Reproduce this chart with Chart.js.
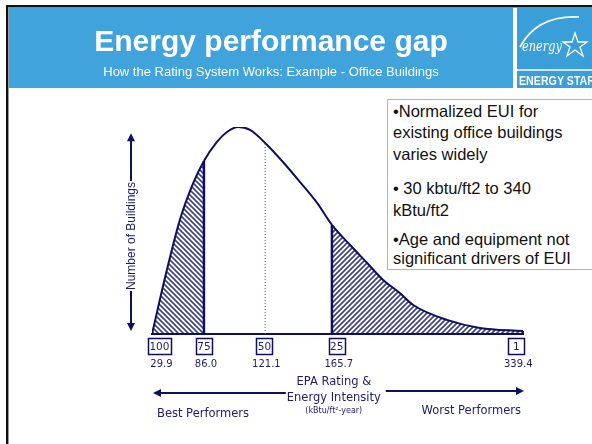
<!DOCTYPE html>
<html>
<head>
<meta charset="utf-8">
<script src="https://cdn.jsdelivr.net/npm/chart.js@4/dist/chart.umd.min.js"></script>
<style>
  html, body { margin: 0; padding: 0; background: #fff; overflow: hidden; }
  body { width: 592px; height: 444px; position: relative; font-family: 'Liberation Sans', Arial, sans-serif; }
  #frame { position: absolute; left: 6px; top: 5px; width: 700px; height: 600px;
           border-top: 2px solid #111; border-left: 2px solid #111; box-shadow: inset 1px 1px 0 #999; }
  #header { position: absolute; left: 9px; top: 7px; width: 504px; height: 81px; background: #40a3dc; }
  .title { position: absolute; left: 0; width: 542px; text-align: center; color: #fff; white-space: nowrap; }
  #logo { position: absolute; left: 517px; top: 7px; width: 80px; height: 81px; background: #3a9fd9; overflow: hidden; }
  #note { position: absolute; left: 387px; top: 99px; width: 260px; height: 169px; border: 1px solid #6cc9ef; border-right: none; background: #fff; }
  .ln { position: absolute; left: 393px; font-size: 16.5px; line-height: 21px; color: #111; white-space: nowrap; }
  #wrap { position: absolute; left: 0; top: 0; width: 592px; height: 444px; }
</style>
</head>
<body>
<div id="frame"></div>
<div id="wrap"><canvas id="gapChart" width="592" height="444"></canvas></div>
<div id="header"></div>
<div class="title" style="top:26px;font-size:30px;line-height:30px;font-weight:bold;">Energy performance gap</div>
<div class="title" style="top:65px;font-size:13px;line-height:13px;">How the Rating System Works: Example - Office Buildings</div>
<div id="logo">
  <svg width="80" height="81" viewBox="0 0 80 81">
    <path d="M3 40 Q 20 8 62 10" stroke="#fff" stroke-width="1.6" fill="none"/>
    <text x="5" y="44" fill="#fff" font-family="DejaVu Serif, serif" font-style="italic" font-size="14" textLength="40" lengthAdjust="spacingAndGlyphs">energy</text>
    <path d="M58 26 L61 35 L70 35 L63 40 L66 49 L58 43 L50 49 L53 40 L46 35 L55 35 Z" stroke="#fff" stroke-width="1.3" fill="none"/>
    <line x1="0" y1="63" x2="80" y2="63" stroke="#fff" stroke-width="1.5"/>
    <text x="2" y="78" fill="#fff" font-family="Liberation Sans, Arial, sans-serif" font-weight="bold" font-size="12.5" textLength="76" lengthAdjust="spacingAndGlyphs">ENERGY STAR</text>
  </svg>
</div>
<div id="note"></div>
<div class="ln" style="top:101px;">•Normalized EUI for</div>
<div class="ln" style="top:122px;">existing office buildings</div>
<div class="ln" style="top:144px;">varies widely</div>
<div class="ln" style="top:178px;">• 30 kbtu/ft2 to 340</div>
<div class="ln" style="top:200px;">kBtu/ft2</div>
<div class="ln" style="top:229px;">•Age and equipment not</div>
<div class="ln" style="top:248px;">significant drivers of EUI</div>

<script>
// Schematic distribution of office buildings (relative position, relative count)
const curveX = [0, 4.0, 7.5, 11.1, 14.0, 17.5, 20.2, 23.2, 26.4, 30.5, 35.3, 39.9, 44.5, 48.5, 53.4, 58.0, 62.3, 66.8, 70.4, 79.5, 88.4, 100];
const curveY = [0, 30.9, 55.1, 72.9, 83.6, 92.8, 97.6, 100, 98.6, 92.3, 83.1, 73.4, 63.3, 52.7, 43.0, 34.3, 26.1, 19.8, 14.0, 6.8, 2.9, 1.4];

// EPA rating ticks and the matching energy intensity
const ratingLabels = ['100', '75', '50', '25', '1'];
const ratingPos = [2.0, 14.0, 30.3, 49.8, 98.2];
const euiLabels = ['29.9', '86.0', '121.1', '165.7', '339.4'];

// cut-off lines drawn up to the curve (75, 50, 25)
const cutoffX = [14.0, 30.5, 48.5];

const NAVY = '#0f0f5e';
const TEXT = '#1d1d6b';

function makeHatch(dir) {
  const s = 5;
  const c = document.createElement('canvas');
  c.width = s; c.height = s;
  const g = c.getContext('2d');
  g.fillStyle = '#fff';
  g.fillRect(0, 0, s, s);
  g.strokeStyle = '#3d4186';
  g.lineWidth = 1.6;
  g.beginPath();
  if (dir === '/') {
    g.moveTo(-1, s + 1); g.lineTo(s + 1, -1);
    g.moveTo(-1, 1); g.lineTo(1, -1);
    g.moveTo(s - 1, s + 1); g.lineTo(s + 1, s - 1);
  } else {
    g.moveTo(-1, -1); g.lineTo(s + 1, s + 1);
    g.moveTo(s - 1, -1); g.lineTo(s + 1, 1);
    g.moveTo(-1, s - 1); g.lineTo(1, s + 1);
  }
  g.stroke();
  return g.createPattern(c, 'repeat');
}

function arrowHead(ctx, x, y, dx, dy) {
  // dx,dy: unit direction of the tip
  const len = 8, half = 4;
  ctx.beginPath();
  ctx.moveTo(x, y);
  ctx.lineTo(x - dx * len - dy * half, y - dy * len + dx * half);
  ctx.lineTo(x - dx * len + dy * half, y - dy * len - dx * half);
  ctx.closePath();
  ctx.fill();
}

const annotations = {
  id: 'annotations',
  afterDatasetsDraw(chart) {
    const { ctx, scales: { x, y } } = chart;
    const meta = chart.getDatasetMeta(0);
    const base = y.getPixelForValue(0);
    const x0 = x.getPixelForValue(0);
    const x1 = x.getPixelForValue(100);

    ctx.save();
    ctx.strokeStyle = NAVY;
    ctx.fillStyle = NAVY;

    // baseline + closing edge at the tail
    ctx.lineWidth = 2;
    ctx.beginPath();
    ctx.moveTo(x0 - 1, base);
    ctx.lineTo(x1, base);
    ctx.lineTo(x1, meta.data[curveX.length - 1].y);
    ctx.stroke();

    // cut-off lines
    cutoffX.forEach((cx, i) => {
      const pt = meta.data[curveX.indexOf(cx)];
      ctx.beginPath();
      if (i === 1) {
        ctx.lineWidth = 1;
        ctx.setLineDash([1, 2]);
        ctx.strokeStyle = '#55588f';
      } else {
        ctx.lineWidth = 2.5;
        ctx.setLineDash([]);
        ctx.strokeStyle = NAVY;
      }
      ctx.moveTo(pt.x, base);
      ctx.lineTo(pt.x, pt.y);
      ctx.stroke();
    });
    ctx.setLineDash([]);

    // rating boxes and intensity values
    ctx.textAlign = 'center';
    ctx.textBaseline = 'middle';
    ratingLabels.forEach((lab, i) => {
      const px = x.getPixelForValue(ratingPos[i]);
      ctx.font = '10.5px "DejaVu Sans", Verdana, sans-serif';
      const w = Math.max(ctx.measureText(lab).width + 3, 16);
      ctx.strokeStyle = NAVY;
      ctx.lineWidth = 1.5;
      ctx.strokeRect(Math.round(px - w / 2) + 0.5, base + 4.5, Math.round(w), 16);
      ctx.fillStyle = TEXT;
      ctx.fillText(lab, px, base + 13);
      ctx.font = '10px "DejaVu Sans", Verdana, sans-serif';
      ctx.fillText(euiLabels[i], px + 2, base + 30);
    });

    // axis caption
    ctx.fillStyle = TEXT;
    ctx.font = '11.5px "DejaVu Sans", Verdana, sans-serif';
    const mid = x.getPixelForValue(49);
    ctx.fillText('EPA Rating &', mid, base + 48);
    ctx.fillText('Energy Intensity', mid, base + 64);
    ctx.font = '8px "DejaVu Sans", Verdana, sans-serif';
    ctx.fillText('(kBtu/ft²-year)', mid, base + 77);

    ctx.font = '11.5px "DejaVu Sans", Verdana, sans-serif';
    ctx.textAlign = 'left';
    ctx.fillText('Best Performers', x0 + 5, base + 80);
    ctx.textAlign = 'right';
    ctx.fillText('Worst Performers', x1 - 2, base + 77);

    // horizontal arrows
    ctx.fillStyle = NAVY;
    ctx.strokeStyle = NAVY;
    ctx.lineWidth = 2;
    ctx.beginPath();
    ctx.moveTo(mid - 48, base + 59);
    ctx.lineTo(x0 + 6, base + 59);
    ctx.stroke();
    arrowHead(ctx, x0 + 1, base + 59, -1, 0);
    ctx.beginPath();
    ctx.moveTo(mid + 52, base + 57);
    ctx.lineTo(x1 - 4, base + 57);
    ctx.stroke();
    arrowHead(ctx, x1 + 1, base + 57, 1, 0);

    // vertical axis caption with arrows
    const ax = x0 - 21;
    const top = y.getPixelForValue(97);
    const bottom = base - 3;
    const cy = 236;
    ctx.font = '12px "Liberation Sans", Arial, sans-serif';
    const half = ctx.measureText('Number of Buildings').width / 2;
    ctx.beginPath();
    ctx.moveTo(ax, top + 6); ctx.lineTo(ax, cy - half - 1);
    ctx.moveTo(ax, cy + half + 1); ctx.lineTo(ax, bottom - 6);
    ctx.stroke();
    arrowHead(ctx, ax, top, 0, -1);
    arrowHead(ctx, ax, bottom, 0, 1);
    ctx.save();
    ctx.translate(ax + 1, cy);
    ctx.rotate(-Math.PI / 2);
    ctx.textAlign = 'center';
    ctx.fillStyle = TEXT;
    ctx.fillText('Number of Buildings', 0, 0);
    ctx.restore();

    ctx.restore();
  }
};

const hatchLeft = makeHatch('\\');
const hatchRight = makeHatch('/');

new Chart(document.getElementById('gapChart'), {
  type: 'line',
  data: {
    datasets: [{
      data: curveX.map((v, i) => ({ x: v, y: curveY[i] })),
      borderColor: NAVY,
      borderWidth: 2,
      backgroundColor: 'rgba(0,0,0,0)',
      fill: 'origin',
      pointRadius: 0,
      cubicInterpolationMode: 'monotone',
      segment: {
        backgroundColor: c => {
          const sx = curveX[c.p0DataIndex];
          if (sx < cutoffX[0]) return hatchLeft;
          if (sx >= cutoffX[2]) return hatchRight;
          return 'rgba(0,0,0,0)';
        },
      },
    }],
  },
  options: {
    responsive: false,
    animation: false,
    layout: { padding: { left: 152, right: 69, top: 127, bottom: 110 } },
    plugins: { legend: { display: false }, tooltip: { enabled: false } },
    scales: {
      x: { type: 'linear', min: 0, max: 100, display: false },
      y: { min: 0, max: 100, display: false },
    },
  },
  plugins: [annotations],
});
</script>
</body>
</html>
